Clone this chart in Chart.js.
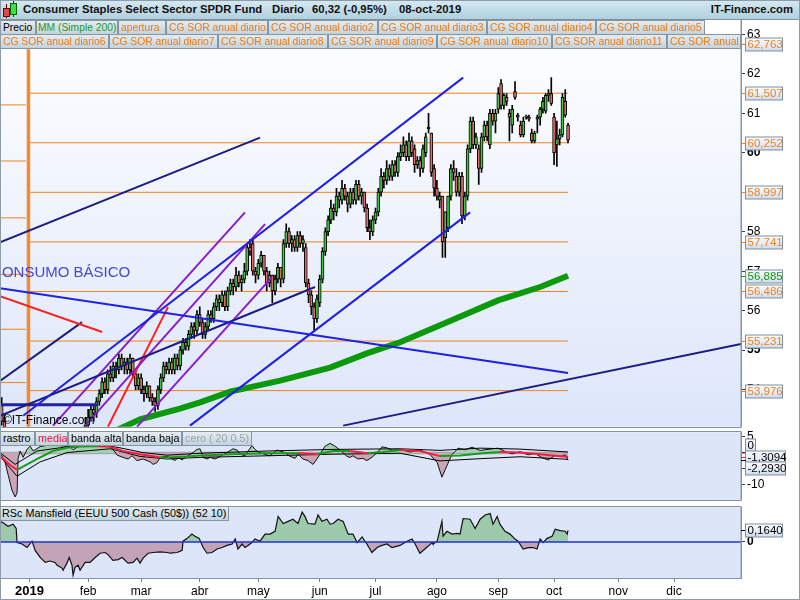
<!DOCTYPE html>
<html lang="es"><head><meta charset="utf-8"><title>Consumer Staples Select Sector SPDR Fund</title>
<script src="https://cdn.jsdelivr.net/npm/chart.js@4.4.1/dist/chart.umd.min.js"></script>
<style>
html,body{margin:0;padding:0;background:#fff;}
body{width:800px;height:600px;position:relative;overflow:hidden;font-family:'Liberation Sans',Arial,sans-serif;}
canvas{position:absolute;left:0;}
#frame{position:absolute;left:0;top:0;width:798px;height:598px;border:1px solid #8d9ca8;pointer-events:none;}
#hdr{position:absolute;left:0;top:0;width:800px;height:19px;background:linear-gradient(#d6e9f2,#b1d0de);border-bottom:1px solid #7d929e;}
.ht{position:absolute;top:3px;font-weight:bold;font-size:11.3px;color:#111;white-space:nowrap;}
.lg{position:absolute;height:15px;line-height:13px;font-size:10.3px;color:#f07a10;background:linear-gradient(#e4ecf1,#c3d3dd);border:1px solid #8296a3;white-space:nowrap;overflow:hidden;padding-left:2px;box-sizing:border-box;}
.lg2{font-size:10.8px;}
#copy{position:absolute;left:3px;top:413px;font-size:12px;color:#000;white-space:nowrap;}
</style></head>
<body>
<canvas id="ca" width="800" height="436" style="top:0px"></canvas>
<canvas id="cb" width="800" height="86" style="top:423px"></canvas>
<canvas id="cc" width="800" height="102" style="top:498px"></canvas>

<div id="hdr">
  <div style="position:absolute;left:6px;top:4px;width:1px;height:14px;background:#500"></div>
  <div style="position:absolute;left:3px;top:8px;width:5px;height:7px;background:#e24848;border:1px solid #700"></div>
  <div style="position:absolute;left:13px;top:1px;width:1px;height:16px;background:#050"></div>
  <div style="position:absolute;left:10px;top:3px;width:5px;height:10px;background:#45dc45;border:1px solid #060"></div>
  <span class="ht" style="left:23px">Consumer Staples Select Sector SPDR Fund</span>
  <span class="ht" style="left:272px">Diario</span>
  <span class="ht" style="left:312px">60,32 (-0,95%)</span>
  <span class="ht" style="left:399px">08-oct-2019</span>
  <span class="ht" style="right:7px">IT-Finance.com</span>
</div>

<div class="lg" style="left:0;top:20px;width:36px;color:#000">Precio</div>
<div class="lg" style="left:36px;top:20px;width:82px;padding-left:1px;color:#1f9a1f">MM (Simple 200)</div>
<div class="lg" style="left:118px;top:20px;width:48px">apertura</div>
<div class="lg" style="left:166px;top:20px;width:102px">CG SOR anual diario</div>
<div class="lg" style="left:268px;top:20px;width:110px">CG SOR anual diario2</div>
<div class="lg" style="left:378px;top:20px;width:109px">CG SOR anual diario3</div>
<div class="lg" style="left:487px;top:20px;width:109px">CG SOR anual diario4</div>
<div class="lg" style="left:596px;top:20px;width:109px">CG SOR anual diario5</div>

<div class="lg" style="left:0;top:34px;width:109px">CG SOR anual diario6</div>
<div class="lg" style="left:109px;top:34px;width:109px">CG SOR anual diario7</div>
<div class="lg" style="left:218px;top:34px;width:110px">CG SOR anual diario8</div>
<div class="lg" style="left:328px;top:34px;width:109px">CG SOR anual diario9</div>
<div class="lg" style="left:437px;top:34px;width:115px">CG SOR anual diario10</div>
<div class="lg" style="left:552px;top:34px;width:115px">CG SOR anual diario11</div>
<div class="lg" style="left:667px;top:34px;width:74px">CG SOR anual diario12</div>

<div class="lg lg2" style="left:0;top:431px;width:35px;color:#000">rastro</div>
<div class="lg lg2" style="left:35px;top:431px;width:33px;color:#ee1144">media</div>
<div class="lg lg2" style="left:68px;top:431px;width:55px;color:#000">banda alta</div>
<div class="lg lg2" style="left:123px;top:431px;width:59px;color:#000">banda baja</div>
<div class="lg lg2" style="left:182px;top:431px;width:70px;color:#9aa4ac">cero ( 20 0.5)</div>

<div class="lg lg2" style="left:0;top:506px;width:229px;padding-left:1px;color:#000">RSc Mansfield (EEUU 500 Cash (50$)) (52 10)</div>

<div id="copy">©IT-Finance.com</div>
<div id="frame"></div>

<script>
// ---------------- DATA ----------------
const firstDay = -10; // trading-day index of the first candle (Jan 2 2019 = 0)
const open = [
 53.6,53.2,52.6,52.1,51.7,51.2,50.6,49.8,48.6,50.0,
 50.4,50.7,50.4,50.9,51.1,51.3,51.0,51.2,51.5,51.4,51.8,51.9,51.6,51.7,51.9,52.1,51.8,52.0,52.4,52.6,52.9,
 53.1,53.3,53.5,53.4,53.7,53.9,54.2,54.0,54.4,54.3,54.6,54.5,54.8,54.6,54.7,54.5,54.8,54.4,54.1,
 54.3,54.0,53.9,54.1,53.8,53.7,53.6,54.0,54.3,54.6,54.5,54.7,54.5,54.8,54.6,55.0,55.2,55.1,55.4,55.6,55.5,
 55.9,55.7,55.4,55.6,55.9,55.8,56.1,56.3,56.2,56.4,56.1,56.5,56.7,56.6,56.9,56.7,56.8,57.0,57.6,57.7,57.0,
 56.9,57.2,57.4,57.0,56.7,56.9,56.5,56.8,57.1,56.8,57.7,58.0,57.7,57.8,57.6,57.9,57.7,57.6,56.7,56.4,56.1,55.8,
 56.2,56.8,57.5,58.0,58.3,58.6,58.5,58.9,58.8,59.1,58.9,58.7,59.0,58.8,59.2,58.9,59.0,58.6,58.1,58.0,
 58.3,58.5,59.0,59.4,59.3,59.6,59.4,59.7,59.5,59.9,60.0,60.2,59.9,60.3,60.1,59.7,59.8,59.6,60.0,60.6,60.5,59.6,
 59.1,58.8,58.9,57.85,58.1,58.9,59.6,59.4,59.0,59.4,58.4,58.9,60.1,60.8,60.2,60.1,59.6,60.4,60.7,60.2,61.0,60.8,
 61.1,61.75,61.2,61.4,61.0,60.7,61.55,60.95,60.7,60.45,60.9,60.9,60.5,60.3,60.85,60.9,61.1,61.05,61.45,61.5,
 60.9,60.2,60.35,60.45,61.3,60.7];
const high = [
 53.8,53.4,52.8,52.3,51.9,51.4,50.8,49.9,50.1,50.7,
 50.9,50.9,51.0,51.3,51.5,51.4,51.4,51.6,51.7,51.9,52.1,52.0,51.8,52.0,52.3,52.2,52.1,52.5,52.7,53.0,53.3,
 53.5,53.6,53.6,53.8,54.0,54.3,54.3,54.5,54.6,54.7,54.7,54.9,54.9,54.8,54.8,54.9,54.8,54.5,54.4,
 54.4,54.1,54.2,54.1,53.9,53.8,54.1,54.4,54.7,54.7,54.8,54.8,54.9,54.9,55.1,55.3,55.3,55.5,55.7,55.7,56.0,
 56.1,55.8,55.7,56.0,56.0,56.2,56.4,56.4,56.5,56.5,56.6,56.8,56.8,57.1,57.0,56.9,57.2,57.7,57.8,57.8,57.1,
 57.3,57.5,57.4,57.1,57.0,56.9,56.9,57.2,57.1,57.8,58.2,58.1,57.9,57.9,58.0,58.0,57.9,57.7,56.8,56.5,56.2,56.4,
 56.9,57.6,58.1,58.4,58.8,58.7,59.1,59.0,59.3,59.2,59.0,59.1,59.1,59.3,59.3,59.1,59.0,58.7,58.3,58.4,
 58.6,59.1,59.6,59.5,59.8,59.7,59.8,59.8,60.0,60.2,60.4,60.3,60.5,60.4,60.2,59.9,59.9,60.2,60.5,61.0,60.5,59.7,
 59.3,59.0,58.9,58.5,58.9,59.7,59.8,59.6,59.5,59.5,59.0,60.2,60.9,60.9,60.5,60.2,60.5,60.8,60.8,61.1,61.1,61.1,
 61.65,61.85,61.5,61.5,61.1,61.2,61.8,61.0,60.8,60.9,60.95,60.95,60.6,60.55,60.95,61.15,61.4,61.5,61.6,61.9,
 61.0,60.8,60.6,61.5,61.6,60.75];
const low = [
 53.1,52.5,51.9,51.5,51.0,50.4,49.6,48.2,48.4,49.8,
 50.1,50.1,50.3,50.8,51.0,50.9,50.9,51.1,51.2,51.3,51.7,51.5,51.4,51.6,51.8,51.7,51.7,51.9,52.3,52.5,52.8,
 53.0,53.2,53.2,53.3,53.6,53.8,53.9,53.9,54.2,54.2,54.3,54.4,54.5,54.4,54.4,54.4,54.3,54.0,54.0,
 53.9,53.7,53.8,53.7,53.6,53.45,53.5,53.9,54.2,54.4,54.4,54.4,54.4,54.5,54.5,54.9,55.0,55.0,55.3,55.3,55.4,
 55.6,55.3,55.3,55.5,55.7,55.7,56.0,56.0,56.1,56.0,56.0,56.4,56.4,56.5,56.6,56.5,56.7,56.9,57.4,56.9,56.7,
 56.8,57.1,56.9,56.5,56.6,56.2,56.4,56.7,56.6,56.7,57.6,57.6,57.5,57.5,57.5,57.6,57.5,56.6,56.2,55.9,55.5,55.7,
 56.1,56.7,57.4,57.9,58.2,58.3,58.4,58.6,58.7,58.8,58.5,58.6,58.7,58.7,58.8,58.7,58.5,58.0,57.8,57.9,
 58.2,58.4,58.9,59.1,59.2,59.3,59.3,59.4,59.4,59.8,59.9,59.8,59.8,59.9,59.5,59.6,59.4,59.5,59.9,60.5,59.4,58.9,
 58.8,58.6,57.35,57.35,58.0,58.8,59.3,58.9,58.9,58.2,58.3,58.8,60.0,60.1,60.1,59.2,59.5,60.3,60.3,60.1,60.7,60.5,
 61.0,61.1,61.1,61.2,60.3,60.5,61.35,60.8,60.4,60.4,60.85,60.8,60.25,60.25,60.5,60.7,61.0,61.0,61.3,61.2,
 59.7,59.65,60.2,60.4,60.9,60.25];
const close = [
 53.2,52.6,52.1,51.7,51.2,50.6,49.8,48.4,50.0,50.5,
 50.8,50.2,50.9,51.1,51.3,51.0,51.2,51.5,51.4,51.8,51.9,51.6,51.7,51.9,52.1,51.8,52.0,52.4,52.6,52.9,53.1,
 53.3,53.5,53.4,53.7,53.9,54.2,54.0,54.4,54.3,54.6,54.5,54.8,54.6,54.7,54.5,54.8,54.4,54.1,54.3,
 54.0,53.9,54.1,53.8,53.7,53.6,54.0,54.3,54.6,54.5,54.7,54.5,54.8,54.6,55.0,55.2,55.1,55.4,55.6,55.5,55.9,
 55.7,55.4,55.6,55.9,55.8,56.1,56.3,56.2,56.4,56.1,56.5,56.7,56.6,56.9,56.7,56.8,57.0,57.6,57.5,57.0,56.9,
 57.2,57.4,57.0,56.7,56.9,56.5,56.8,57.1,56.8,57.7,58.0,57.7,57.8,57.6,57.9,57.7,57.8,56.7,56.4,56.1,55.8,56.3,
 56.8,57.5,58.0,58.3,58.6,58.5,58.9,58.8,59.1,58.9,58.7,59.0,58.8,59.2,58.9,59.0,58.6,58.1,58.0,58.3,
 58.5,59.0,59.4,59.3,59.6,59.4,59.7,59.5,59.9,60.0,60.2,59.9,60.3,60.0,59.7,59.8,59.6,60.1,60.4,60.65,59.5,59.1,
 58.9,58.9,57.75,58.5,58.9,59.6,59.5,59.0,59.4,58.4,58.9,60.1,60.8,60.2,60.4,59.6,60.4,60.7,60.4,61.0,60.8,61.0,
 61.5,61.2,61.45,61.3,60.9,61.1,61.4,60.9,60.45,60.8,60.9,60.85,60.3,60.5,60.9,61.1,61.3,61.45,61.5,61.25,
 60.0,60.35,60.45,61.4,60.95,60.32];

// Moving average (Simple 200)
const maDay = [30.3,33.5,39.6,53.9,61.1,71.9,89.8,107.7,120.9,132.8,151.1,167.9,183.0,193];
const maVal = [52.95,53.05,53.25,53.52,53.68,53.95,54.23,54.56,54.92,55.2,55.75,56.26,56.6,56.885];

// CG SOR anual levels (current year) and previous-year levels
const levels = [62.763,61.507,60.252,58.997,57.741,56.486,55.231,53.976];
const priorLevels = [61.21,59.79,58.35,56.92,55.53,54.18];
const yearOpenDay = -0.4;
const lastDay = 193;

// Hand-drawn trend lines: start [day, price], end [day, price]
const trendStart = [[-10.6,57.73],[-2.3,53.34],[-10.6,56.57],[-10.6,56.37],[-10.6,54.22],[-10.6,53.34],[-10.6,53.62],[8.4,53.09],[19.9,53.09],[38.5,53.06],[28.1,53.06],[57.5,53.09],[112.4,53.09]];
const trendEnd   = [[82.6,60.38],[155.4,61.9],[193.0,54.42],[26.0,55.46],[18.8,55.71],[102.3,56.60],[24.2,53.62],[77.2,58.49],[84.4,58.19],[86.9,56.85],[49.6,56.09],[157.9,58.49],[255,55.16]];

// Indicator panel (rastro / media / bandas)
const rastroDay = [-10.6,-9.9,-8.8,-7.7,-6.3,-5.2,-4.5,-4.1,-3.4,-2.3,-0.9,0.2,1.3,3.8,7.3,10.9,14.5,15.6,18.1,21.7,25.3,28.9,29.9,31.4,33.5,35.3,36.7,38.5,40.7,43.2,44.3,45.7,46.8,49.3,51.1,52.2,53.2,54.7,55.7,56.8,58.6,60.0,61.1,62.2,63.6,64.7,66.5,68.3,70.8,72.9,74.4,75.4,77.2,79.7,80.8,81.9,85.1,86.2,88.7,90.9,93.4,95.2,96.2,98.0,99.8,101.6,103.0,104.1,105.9,107.7,109.5,111.3,113.8,114.9,115.9,117.7,119.5,120.9,122.7,124.6,126.3,128.1,129.9,132.8,136.4,139.9,143.5,146.1,147.8,149.6,151.4,153.6,156.1,158.6,161.5,165.1,167.9,170.4,172.9,175.8,178.7,181.2,183.7,185.9,188.4,190.2,192.0,193.0];
const rastroVal = [-0.4,-0.9,-2.8,-6.8,-11.7,-13.8,-12.6,-1.8,0.6,-1.4,1.1,2.1,0.6,2.0,2.5,2.3,2.0,1.0,2.4,2.8,2.5,1.9,1.1,-0.7,-1.4,-1.9,-0.9,-2.4,-1.9,-2.8,-3.6,-3.0,-1.4,-1.1,-1.9,-2.4,-1.4,-2.2,-1.4,-0.9,0.1,1.1,1.3,-1.4,-1.9,-1.4,-1.9,-1.1,0.1,1.3,0.9,-0.4,-0.9,2.3,1.1,0.3,-0.7,-0.9,0.9,0.3,-1.1,-1.7,-0.4,-1.9,-2.4,-3.6,-1.9,-0.4,2.1,3.0,2.1,0.9,-1.1,-1.4,-0.9,-1.9,-1.7,-2.4,-1.4,0.1,1.9,1.6,0.9,1.1,0.3,1.0,-0.5,-3.0,-7.6,-4.0,-0.5,1.5,1.0,1.8,0.8,1.2,1.5,0.5,-0.3,0.4,-0.6,-0.2,-1.5,-2.2,-0.8,-1.2,-0.6,-2.293];
const mediaDay = [-10.6,-8.8,-7.0,-4.5,-0.9,3.8,8.4,13.4,18.1,24.2,28.9,33.5,39.6,46.8,49.3,56.5,61.1,63.6,72.9,85.1,96.9,103.0,108.8,114.9,120.9,126.7,132.8,139.9,147.1,154.3,161.5,168.6,175.8,183.0,188.4,193.0];
const mediaVal = [-0.9,-2.4,-3.8,-5.3,-3.6,-1.4,0.6,1.6,2.1,2.1,1.9,0.6,-0.4,-1.4,-1.4,-1.1,-0.8,-0.7,-0.4,-0.1,-0.1,-0.4,0.6,0.6,-0.1,0.3,0.9,0.6,-1.0,-0.8,-0.2,0.3,0.1,-0.4,-0.9,-1.3094];
const altaDay = [-10.6,-5.2,2.7,13.4,28.9,32.4,40.7,49.3,61.1,85.1,108.8,132.8,147.1,161.5,175.8,193.0];
const altaVal = [0.1,-3.6,0.6,1.9,2.1,1.6,0.1,-0.7,-0.1,0.6,1.1,1.3,0.8,1.5,1.2,0.3];
const bajaDay = [-10.6,-4.5,3.8,13.4,28.9,39.6,49.3,61.1,85.1,108.8,132.8,147.1,161.5,175.8,193.0];
const bajaVal = [-1.1,-7.3,-2.8,0.1,1.3,-1.1,-1.9,-1.4,-0.9,-0.4,-0.1,-2.5,-1.8,-1.2,-2.0];

// RSc Mansfield
const rscDay = [-10.6,-9.5,-7.7,-5.9,-4.8,-4.5,-2.7,-0.9,0.9,2.0,3.8,5.6,7.3,9.1,9.9,11.6,12.0,13.4,14.2,15.2,15.6,16.3,17.4,18.1,19.9,21.7,23.5,25.3,27.1,28.1,29.9,31.7,33.2,35.3,37.1,38.5,39.6,40.7,42.5,44.3,46.8,49.3,50.4,52.9,54.7,55.0,56.5,58.2,59.3,60.8,62.2,63.6,65.4,67.2,69.0,70.8,72.6,73.7,74.7,76.2,77.2,78.3,79.7,80.8,82.6,84.4,86.2,88.0,89.1,90.9,92.7,94.4,96.2,97.7,98.7,99.8,102.3,103.4,104.8,106.6,107.7,108.8,110.6,112.4,114.2,115.9,117.4,119.2,120.9,122.7,124.6,126.3,128.1,129.9,132.8,135.3,137.1,138.2,139.9,141.7,144.3,144.6,146.1,147.8,148.2,149.6,151.4,153.2,154.3,155.4,157.9,159.7,161.5,163.3,165.1,166.1,167.6,168.6,170.4,172.2,174.0,175.1,176.9,178.7,180.5,181.9,183.0,184.1,185.5,187.3,188.4,190.2,192.0,192.7,193.0];
const rscVal = [0.29,0.27,0.22,0.25,0.19,-0.01,-0.03,-0.08,0.01,-0.12,-0.22,-0.29,-0.27,-0.29,-0.33,-0.37,-0.40,-0.30,-0.22,-0.33,-0.47,-0.36,-0.33,-0.40,-0.29,-0.29,-0.22,-0.16,-0.15,-0.18,-0.26,-0.25,-0.22,-0.30,-0.29,-0.23,-0.30,-0.23,-0.16,-0.15,-0.14,-0.15,-0.16,-0.15,-0.12,0.01,0.05,0.11,0.08,0.05,-0.08,-0.16,-0.15,-0.10,-0.08,-0.05,-0.03,0.04,-0.10,-0.03,-0.08,-0.05,-0.01,0.04,0.01,0.11,0.11,0.15,0.36,0.26,0.29,0.32,0.26,0.42,0.36,0.26,0.25,0.38,0.29,0.32,0.25,0.26,0.32,0.29,0.11,0.11,-0.01,0.07,-0.03,-0.15,-0.08,-0.05,-0.03,-0.08,-0.05,0.01,0.04,-0.03,-0.16,-0.10,-0.01,-0.03,0.01,0.29,0.08,0.15,0.11,0.12,0.11,0.33,0.32,0.19,0.32,0.38,0.40,0.25,0.36,0.25,0.15,0.11,0.04,0.01,-0.10,-0.08,-0.08,-0.10,0.04,-0.01,0.05,0.08,0.18,0.16,0.15,0.11,0.164];

// X-axis month ticks (trading-day index)
const monthStart = [0,21,40,61,82,104,124,146,168,188,211,231];
const monthLabel = ['2019','feb','mar','abr','may','jun','jul','ago','sep','oct','nov','dic'];

const priceTicks = [54,55,56,57,58,59,60,61,62,63];
const indTicks = [5,0,-5,-10];
const rscTicks = [0];

// ---------------- CHARTS ----------------
Chart.defaults.font.family = "'Liberation Sans', Arial, sans-serif";
Chart.defaults.font.size = 11.5;
Chart.defaults.color = '#000';
Chart.defaults.animation = false;

const X_MIN = -10.6, X_MAX = 255;
const ORANGE = '#f0821e';
const fmt = (v, d) => v.toFixed(d).replace('.', ',');
const pts = (xs, ys) => xs.map((x, k) => ({x, y: ys[k]}));

const panelPlugin = {
  id: 'panel',
  beforeDraw(chart, args, o) {
    const {ctx, chartArea: a} = chart;
    ctx.save();
    let f = o.color;
    if (o.gradient) {
      f = ctx.createLinearGradient(0, a.top, 0, a.bottom);
      f.addColorStop(0, o.gradient[0]); f.addColorStop(1, o.gradient[1]);
    }
    ctx.fillStyle = f;
    ctx.fillRect(a.left, a.top, a.right - a.left, a.bottom - a.top);
    ctx.restore();
  },
  afterDatasetsDraw(chart, args, o) {
    if (!o.note) return;
    const {ctx} = chart;
    const n = o.note;
    ctx.save();
    ctx.font = n.font; ctx.fillStyle = n.color; ctx.textBaseline = 'middle';
    ctx.fillText(n.text, chart.scales.x.getPixelForValue(n.day), chart.scales.y.getPixelForValue(n.price));
    ctx.restore();
  },
  afterDraw(chart, args, o) {
    const {ctx, chartArea: a} = chart;
    const ys = chart.scales.y;
    ctx.save();
    ctx.strokeStyle = '#8395a2'; ctx.lineWidth = 1;
    ctx.strokeRect(0.5, Math.round(a.top) - 0.5, Math.round(a.right) - 0.5, Math.round(a.bottom - a.top) + 1);
    const tags = o.tags || [];
    let pos = tags.map(t => ys.getPixelForValue(t.v));
    if (o.spread) {
      const H = 11.5, m = pos.reduce((s, y) => s + y, 0) / pos.length;
      pos = pos.map((_, k) => m - H * tags.length / 2 + H * k + H / 2);
    }
    tags.forEach((t, k) => {
      const yv = Math.round(ys.getPixelForValue(t.v)) + 0.5;
      ctx.strokeStyle = t.tick || t.color;
      ctx.beginPath(); ctx.moveTo(741, yv); ctx.lineTo(746, yv); ctx.stroke();
      const h = 13, x = 745.5, w = t.w || 37, y = Math.round(pos[k]);
      const g = ctx.createLinearGradient(0, y - h / 2, 0, y + h / 2);
      g.addColorStop(0, '#ffffff'); g.addColorStop(1, '#d2ddef');
      ctx.fillStyle = g; ctx.fillRect(x, y - h / 2 + 0.5, w, h);
      ctx.strokeStyle = '#7b8f9d'; ctx.strokeRect(x, y - h / 2 + 0.5, w, h);
      ctx.fillStyle = t.color; ctx.font = "11.5px 'Liberation Sans', Arial, sans-serif";
      ctx.textBaseline = 'middle';
      ctx.fillText(t.text, x + 2, y + 1);
    });
    ctx.restore();
  }
};

function yRight(min, max, ticks, boldTest) {
  return {
    position: 'right', min, max,
    afterFit(s) { s.width = 59; },
    afterBuildTicks(s) { s.ticks = ticks.map(v => ({value: v})); },
    grid: {drawOnChartArea: false, drawTicks: true, tickLength: 4, color: '#404040'},
    border: {display: true, color: '#8395a2'},
    ticks: {padding: 2, color: '#000',
      font: ctx => ({size: 12, weight: (ctx.tick && boldTest(ctx.tick.value)) ? 'bold' : 'normal'}),
      callback: v => String(v)}
  };
}
const xHidden = () => ({type: 'linear', min: X_MIN, max: X_MAX, offset: false, display: false, grid: {offset: false}});
const lineDs = (data, color, width, extra) => Object.assign({type: 'line', data, borderColor: color, borderWidth: width, pointRadius: 0, tension: 0, fill: false}, extra || {});

// ---- Chart A : price ----
const bodies = [], wicks = [], bodyColor = [];
for (let k = 0; k < close.length; k++) {
  const d = firstDay + k, o = open[k], c = close[k];
  let lo = Math.min(o, c), hi = Math.max(o, c);
  if (hi - lo < 0.03) hi = lo + 0.03;
  bodies.push({x: d, y: [lo, hi]});
  wicks.push({x: d, y: [low[k], high[k]]});
  bodyColor.push(c >= o ? '#3dcb3d' : '#e66c6c');
}
const dsA = [];
priorLevels.forEach(v => dsA.push(lineDs([{x: X_MIN, y: v}, {x: -1.3, y: v}], ORANGE, 1, {order: 20})));
levels.forEach(v => dsA.push(lineDs([{x: 0.2, y: v}, {x: lastDay, y: v}], ORANGE, 1, {order: 20})));
dsA.push(lineDs([{x: yearOpenDay, y: 53.0}, {x: yearOpenDay, y: 62.62}], 'rgba(241,128,30,0.9)', 3.5, {order: 19}));
dsA.push(lineDs(pts(maDay, maVal), '#0c9a0c', 6, {order: 18}));
dsA.push({type: 'bar', data: wicks, backgroundColor: '#000', barThickness: 1, grouped: false, order: 10});
dsA.push({type: 'bar', data: bodies, backgroundColor: bodyColor, borderColor: '#000', borderWidth: 1, borderSkipped: false, barThickness: 3, grouped: false, order: 9});
const trendColor = ['#1c1c84','#1f1fe6','#1f1fe6','#ff2020','#1c1c84','#1c1c84','#22229a','#8a1ccc','#8a1ccc','#8a1ccc','#ff2020','#1f1fe6','#1c1c84'];
trendStart.forEach((s, k) => dsA.push(lineDs([{x: s[0], y: s[1]}, {x: trendEnd[k][0], y: trendEnd[k][1]}], trendColor[k], k === 6 ? 3 : 2, {order: 2})));

new Chart(document.getElementById('ca'), {
  type: 'line',
  data: {datasets: dsA},
  options: {
    responsive: false, animation: false,
    layout: {padding: {top: 20, bottom: 8, left: 0, right: 0}},
    plugins: {
      legend: {display: false}, tooltip: {enabled: false},
      panel: {
        gradient: ['#ffffff', '#dde6fa'],
        note: {text: 'CONSUMO BÁSICO', day: -13.8, price: 56.96, color: '#4646d8', font: "15px 'Liberation Sans', Arial, sans-serif"},
        tags: levels.map(v => ({v, text: fmt(v, 3), color: ORANGE})).concat([{v: maVal[maVal.length - 1], text: fmt(maVal[maVal.length - 1], 3), color: '#139b13'}])
      }
    },
    scales: {
      x: xHidden(),
      y: yRight(53.06, 63.36, priceTicks, v => v % 5 === 0)
    }
  },
  plugins: [panelPlugin]
});

// ---- Chart B : indicator ----
new Chart(document.getElementById('cb'), {
  type: 'line',
  data: {datasets: [
    lineDs([{x: X_MIN, y: 0}, {x: lastDay, y: 0}], '#a8a8a8', 2.5, {order: 5}),
    lineDs(pts(rastroDay, rastroVal), '#111', 1, {order: 4, fill: {target: {value: 0}, above: '#a3cfb2', below: '#c9a6b6'}}),
    lineDs(pts(altaDay, altaVal), '#000', 1, {order: 3}),
    lineDs(pts(bajaDay, bajaVal), '#000', 1, {order: 3}),
    lineDs(pts(mediaDay, mediaVal), '#1a9a1a', 2, {order: 2, segment: {borderColor: c => c.p1.parsed.y < c.p0.parsed.y ? '#ff1a40' : '#1a9a1a'}})
  ]},
  options: {
    responsive: false, animation: false,
    layout: {padding: {top: 7, bottom: 7, left: 0, right: 0}},
    plugins: {legend: {display: false}, tooltip: {enabled: false},
      panel: {color: '#dde5f9', spread: true, tags: [
        {v: 0, text: '0', color: '#000', tick: '#999', w: 10},
        {v: mediaVal[mediaVal.length - 1], text: fmt(mediaVal[mediaVal.length - 1], 4), color: '#000', tick: '#ff1a40', w: 40},
        {v: rastroVal[rastroVal.length - 1], text: fmt(rastroVal[rastroVal.length - 1], 4), color: '#000', tick: '#000', w: 40}
      ]}},
    scales: {
      x: xHidden(),
      y: yRight(-14.7, 6.5, indTicks, v => false)
    }
  },
  plugins: [panelPlugin]
});

// ---- Chart C : RSc Mansfield ----
new Chart(document.getElementById('cc'), {
  type: 'line',
  data: {datasets: [
    lineDs(pts(rscDay, rscVal), '#111', 1.2, {order: 3, fill: {target: {value: 0}, above: '#9ccaab', below: '#c3a3b6'}}),
    lineDs([{x: X_MIN, y: 0}, {x: X_MAX, y: 0}], '#2233cc', 1.5, {order: 2})
  ]},
  options: {
    responsive: false, animation: false,
    layout: {padding: {top: 7, bottom: 0, left: 0, right: 0}},
    plugins: {legend: {display: false}, tooltip: {enabled: false},
      panel: {color: '#dde5f9', tags: [{v: rscVal[rscVal.length - 1], text: fmt(rscVal[rscVal.length - 1], 4), color: '#000', tick: '#000', w: 37}]}},
    scales: {
      x: {type: 'linear', min: X_MIN, max: X_MAX, offset: false, position: 'bottom',
        afterFit(s) { s.height = 22; },
        afterBuildTicks(s) { s.ticks = monthStart.map(v => ({value: v})); },
        grid: {drawOnChartArea: false, drawTicks: true, tickLength: 4, color: '#6f808c'},
        border: {display: true, color: '#8395a2'},
        ticks: {autoSkip: false, maxRotation: 0, padding: 2, color: '#000',
          font: c => ({size: c.index === 0 ? 13 : 12, weight: c.index === 0 ? 'bold' : 'normal'}),
          callback: v => monthLabel[monthStart.indexOf(v)]}
      },
      y: yRight(-0.51, 0.49, rscTicks, v => v === 0)
    }
  },
  plugins: [panelPlugin]
});
</script>
</body></html>
